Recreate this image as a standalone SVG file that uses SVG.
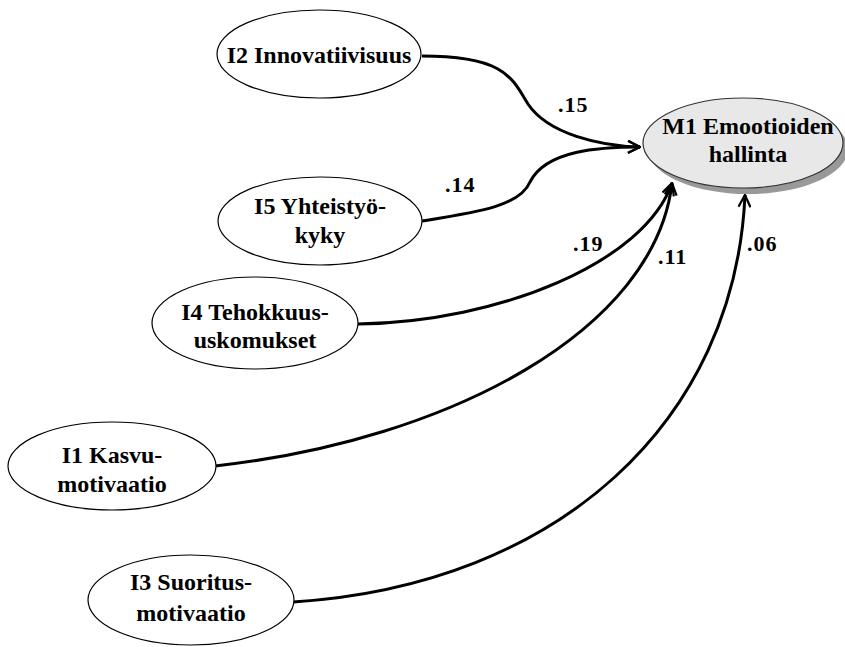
<svg xmlns="http://www.w3.org/2000/svg" width="845" height="647" viewBox="0 0 845 647">
  <defs>
    <marker id="arrow" viewBox="0 0 14 14" refX="13" refY="7" markerWidth="14" markerHeight="14" markerUnits="userSpaceOnUse" orient="auto">
      <path d="M1,1 L13,7 L1,13" fill="none" stroke="#000" stroke-width="2.2"/>
    </marker>
  </defs>
  <style>
    .node { fill: #fff; stroke: #000; stroke-width: 1.2; }
    .target { fill: #e8e8e8; stroke: #333; stroke-width: 1.2; }
    .shadow { fill: #999; }
    .lbl { font-family: "Liberation Serif", "Times New Roman", serif; font-weight: bold; font-size: 24px; text-anchor: middle; fill: #000; }
    .coef { font-family: "Liberation Serif", "Times New Roman", serif; font-weight: bold; font-size: 22px; letter-spacing: 1px; fill: #000; }
    .edge { fill: none; stroke: #000; stroke-width: 3; marker-end: url(#arrow); }
  </style>
  <rect width="845" height="647" fill="#fff"/>

  <g id="connectors">
    <path class="edge" d="M422,56 C505,56 512,78 528,104 C548,134 600,146 640,147"/>
    <path class="edge" d="M422,221 C478,212 520,206 530,182 C546,150 600,147 640,147"/>
    <path class="edge" d="M358,324 C500,322 645,262 672,183"/>
    <path class="edge" d="M215,466 C450,440 655,330 672,183"/>
    <path class="edge" d="M293,602 C560,585 735,420 745,195"/>
    <text class="coef" x="558" y="112">.15</text>
    <text class="coef" x="445" y="192">.14</text>
    <text class="coef" x="573" y="251">.19</text>
    <text class="coef" x="658" y="264">.11</text>
    <text class="coef" x="747" y="251">.06</text>
  </g>

  <g id="m1">
    <ellipse class="shadow" cx="748" cy="149" rx="100" ry="45"/>
    <ellipse class="target" cx="743" cy="143" rx="100" ry="45"/>
    <text class="lbl" x="748" y="134">M1 Emootioiden</text>
    <text class="lbl" x="748" y="162">hallinta</text>
  </g>

  <g id="i2">
    <ellipse class="node" cx="319" cy="54" rx="102" ry="44"/>
    <text class="lbl" x="319" y="63">I2 Innovatiivisuus</text>
  </g>

  <g id="i5">
    <ellipse class="node" cx="320" cy="221" rx="102" ry="44"/>
    <text class="lbl" x="320" y="214">I5 Yhteistyö-</text>
    <text class="lbl" x="320" y="243">kyky</text>
  </g>

  <g id="i4">
    <ellipse class="node" cx="255" cy="323" rx="103" ry="46"/>
    <text class="lbl" x="255" y="320">I4 Tehokkuus-</text>
    <text class="lbl" x="255" y="348">uskomukset</text>
  </g>

  <g id="i1">
    <ellipse class="node" cx="112" cy="466" rx="104" ry="44"/>
    <text class="lbl" x="112" y="463">I1 Kasvu-</text>
    <text class="lbl" x="112" y="492">motivaatio</text>
  </g>

  <g id="i3">
    <ellipse class="node" cx="191" cy="600" rx="103" ry="45"/>
    <text class="lbl" x="191" y="590">I3 Suoritus-</text>
    <text class="lbl" x="191" y="621">motivaatio</text>
  </g>
</svg>
